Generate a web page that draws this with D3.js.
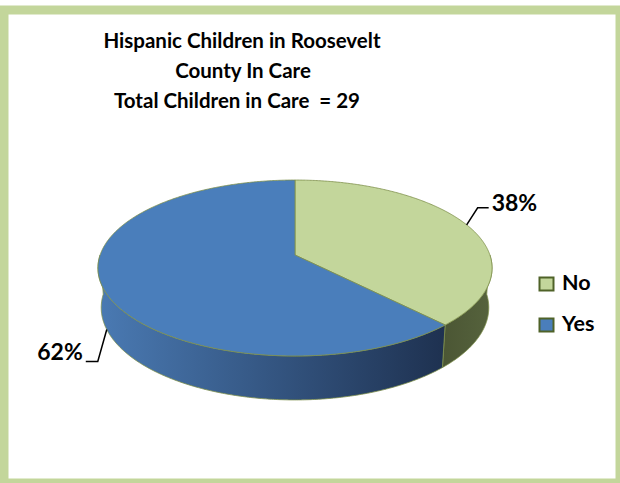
<!DOCTYPE html>
<html>
<head>
<meta charset="utf-8">
<script src="https://cdn.jsdelivr.net/npm/d3@7"></script>
<style>
  html, body { margin: 0; padding: 0; background: #fff; }
  svg { display: block; }
  text { font-family: Lato, "Open Sans", sans-serif; font-weight: bold; fill: #000; }
</style>
</head>
<body>
<svg id="chart" width="620" height="483"></svg>
<script>
// ---- data ----
const categories = ["No", "Yes"];
const values = [11, 18];
const colors = ["#c3d69b", "#4a7ebb"];
const titleLines = ["Hispanic Children in Roosevelt", "County In Care", "Total Children in Care  = 29"];

// ---- layout ----
const svg = d3.select("#chart");

// frame
svg.append("rect").attr("x", 4).attr("y", 10).attr("width", 616).attr("height", 473)
  .attr("fill", "#fff").attr("stroke", "#c3d69b").attr("stroke-width", 9);

// title
const titleX = [242, 243, 237];
const titleY = [48, 78, 108];
titleLines.forEach((t, i) => {
  svg.append("text").attr("x", titleX[i]).attr("y", titleY[i])
    .attr("text-anchor", "middle").attr("font-size", 20.5)
    .attr("xml:space", "preserve").text(t);
});

// 3D perspective camera for the pie
const cx = 295, cy = 255;
const phi = 26.2 * Math.PI / 180;
const dist = 6.07, F = 1183, thick = 0.228;
function project(theta, Y) {
  const X = Math.sin(theta), Z = Math.cos(theta);
  const depth = dist - Y * Math.sin(phi) + Z * Math.cos(phi);
  const up = Y * Math.cos(phi) + Z * Math.sin(phi);
  return [cx + F * X / depth, cy - F * up / depth];
}
function projCenter(Y) {
  const depth = dist - Y * Math.sin(phi);
  const up = Y * Math.cos(phi);
  return [cx, cy - F * up / depth];
}

const pie = d3.pie().sort(null).value(d => d)(values);
const total = d3.sum(values);
const pct = d3.format(".0%");
const step = Math.PI / 360;

function arcPoints(a0, a1, Y) {
  const pts = [];
  const n = Math.max(2, Math.ceil((a1 - a0) / step));
  for (let i = 0; i <= n; i++) pts.push(project(a0 + (a1 - a0) * i / n, Y));
  return pts;
}
const line = d3.line();

const defs = svg.append("defs");
const sideStops = [["#4b5634", "#56633d"], ["#4a7ab3", "#1e3150"]];

// sides (front visible portion only)
const sideG = svg.append("g");
pie.forEach((p, i) => {
  const a0 = Math.max(p.startAngle, Math.PI / 2);
  const a1 = Math.min(p.endAngle, 3 * Math.PI / 2);
  if (a1 <= a0) return;
  const top = arcPoints(a0, a1, 0);
  const bot = arcPoints(a0, a1, -thick).reverse();
  const xs = top.concat(bot).map(d => d[0]);
  const g = defs.append("linearGradient").attr("id", "side" + i)
    .attr("gradientUnits", "userSpaceOnUse")
    .attr("x1", d3.min(xs)).attr("x2", d3.max(xs)).attr("y1", 0).attr("y2", 0);
  g.append("stop").attr("offset", 0).attr("stop-color", sideStops[i][0]);
  g.append("stop").attr("offset", 1).attr("stop-color", sideStops[i][1]);
  sideG.append("path").attr("d", line(top.concat(bot)) + "Z")
    .attr("fill", `url(#side${i})`)
    .attr("stroke", "#7d8f4a").attr("stroke-width", 0.8).attr("stroke-linejoin", "round");
});

// tops
const topG = svg.append("g");
pie.forEach((p, i) => {
  const pts = [projCenter(0)].concat(arcPoints(p.startAngle, p.endAngle, 0));
  topG.append("path").attr("d", line(pts) + "Z")
    .attr("fill", colors[i])
    .attr("stroke", "#7d8f4a").attr("stroke-width", 0.8).attr("stroke-linejoin", "round");
});

// data labels with leader lines
const labelOffsets = [
  { bend: [11, -17], end: [22, -17], text: [25, -14], anchor: "start" },
  { bend: [-9, 32], end: [-21, 32], text: [-24, 30], anchor: "end" }
];
pie.forEach((p, i) => {
  const mid = (p.startAngle + p.endAngle) / 2;
  const front = Math.cos(mid) < 0;
  const a = project(mid, front ? -thick : 0);
  const o = labelOffsets[i];
  svg.append("path")
    .attr("d", line([a, [a[0] + o.bend[0], a[1] + o.bend[1]], [a[0] + o.end[0], a[1] + o.end[1]]]))
    .attr("fill", "none").attr("stroke", "#000").attr("stroke-width", 1.5);
  svg.append("text").attr("x", a[0] + o.text[0]).attr("y", a[1] + o.text[1])
    .attr("text-anchor", o.anchor).attr("font-size", 23)
    .text(pct(p.value / total));
});

// legend
const legend = svg.append("g").attr("transform", "translate(539,277)");
categories.forEach((c, i) => {
  const g = legend.append("g").attr("transform", `translate(0,${i * 41})`);
  g.append("rect").attr("x", 0.5).attr("y", 0.5).attr("width", 14).attr("height", 13)
    .attr("fill", colors[i]).attr("stroke", "#4f6228").attr("stroke-width", 2);
  g.append("text").attr("x", 23).attr("y", 13).attr("font-size", 21.5).text(c);
});
</script>
</body>
</html>
